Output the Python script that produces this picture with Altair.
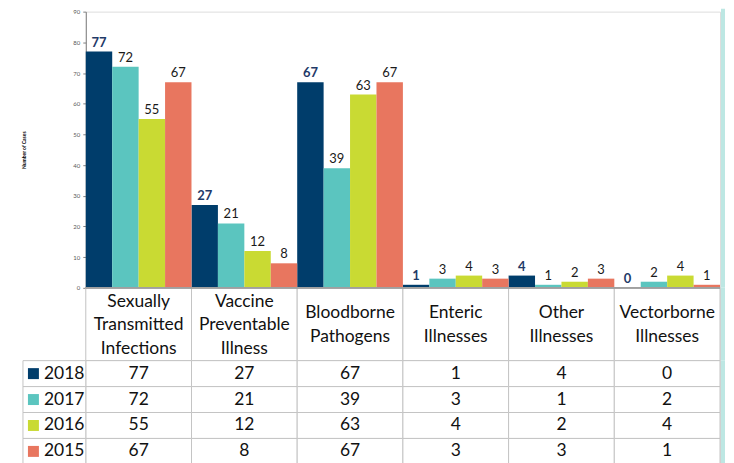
import altair as alt
import pandas as pd

categories = ["Sexually Transmitted Infections", "Vaccine Preventable Illness",
              "Bloodborne Pathogens", "Enteric Illnesses", "Other Illnesses",
              "Vectorborne Illnesses"]
header_labels = ["Sexually\nTransmitted\nInfections", "Vaccine\nPreventable\nIllness",
                 "Bloodborne\nPathogens", "Enteric\nIllnesses", "Other\nIllnesses",
                 "Vectorborne\nIllnesses"]
header_nlines = [3, 3, 2, 2, 2, 2]
years = ["2018", "2017", "2016", "2015"]
colors = ["#003d6b", "#5bc5bf", "#c9da33", "#e8765f"]
cases_2018 = [77, 27, 67, 1, 4, 0]
cases_2017 = [72, 21, 39, 3, 1, 2]
cases_2016 = [55, 12, 63, 4, 2, 4]
cases_2015 = [67, 8, 67, 3, 3, 1]
y_ticks = [0, 10, 20, 30, 40, 50, 60, 70, 80, 90]

series = {"2018": cases_2018, "2017": cases_2017, "2016": cases_2016, "2015": cases_2015}
rows = []
for y in years:
    for c, v in zip(categories, series[y]):
        rows.append({"category": c, "year": y, "cases": v})
df = pd.DataFrame(rows)
hdr = pd.DataFrame({"category": categories, "label": header_labels, "n": header_nlines})
yr = pd.DataFrame({"year": years})

W = 636
H = 277
FONT = "Lato"
GRID = "#c4c4c4"
TEAL = "#bde7e3"
TX1, TX2 = W + 1, W + 5

x_enc = alt.X("category:N", sort=categories,
              scale=alt.Scale(domain=categories, paddingInner=0, paddingOuter=0),
              axis=None)
xoff = alt.XOffset("year:N", sort=years,
                   scale=alt.Scale(domain=years, paddingInner=0, paddingOuter=0))
color = alt.Color("year:N", sort=years, scale=alt.Scale(domain=years, range=colors), legend=None)
yq = alt.Y("cases:Q", scale=alt.Scale(domain=[0, 90]),
           axis=alt.Axis(values=y_ticks, title="Number of Cases", titleFontSize=5,
                         titleFont=FONT, titleFontWeight="bold", titlePadding=46,
                         labelFontSize=6, labelFont=FONT, labelColor="#595959",
                         labelPadding=3, tickSize=3, tickColor="#7f7f7f",
                         labelOverlap=False, domainColor="#7f7f7f", grid=False))

base = alt.Chart(df)
bars = base.mark_bar().encode(x=x_enc, xOffset=xoff, y=yq, color=color)
lab18 = base.transform_filter(alt.datum.year == "2018").mark_text(
    font=FONT, fontSize=13, fontWeight="bold", color="#1f3a68", baseline="alphabetic", dy=-5
).encode(x=x_enc, xOffset=xoff, y=yq, text="cases:Q")
labo = base.transform_filter(alt.datum.year != "2018").mark_text(
    font=FONT, fontSize=13, color="#1a1a1a", baseline="alphabetic", dy=-5
).encode(x=x_enc, xOffset=xoff, y=yq, text="cases:Q")
teal1 = alt.Chart(yr.head(1)).mark_rect(color=TEAL).encode(
    x=alt.value(TX1), x2=alt.value(TX2), y=alt.value(-3), y2=alt.value(H))
top = alt.layer(bars, lab18, labo, teal1).properties(width=W, height=H)

hcell = alt.Chart(hdr).mark_rect(fill="white", stroke=GRID, strokeWidth=1).encode(
    x=x_enc, y=alt.value(0), y2=alt.value(73))
hbase = alt.Chart(hdr).mark_rule(color="#a0a0a0", strokeWidth=1).encode(
    x=alt.value(0), x2=alt.value(W), y=alt.value(0))
htext3 = alt.Chart(hdr).transform_filter(alt.datum.n == 3).mark_text(
    font=FONT, fontSize=17.5, lineBreak="\n", lineHeight=23.5,
    baseline="middle", color="#111111").encode(x=x_enc, y=alt.value(14), text="label:N")
htext2 = alt.Chart(hdr).transform_filter(alt.datum.n == 2).mark_text(
    font=FONT, fontSize=17.5, lineBreak="\n", lineHeight=23.5,
    baseline="middle", color="#111111").encode(x=x_enc, y=alt.value(25.5), text="label:N")
teal2 = alt.Chart(yr.head(1)).mark_rect(color=TEAL).encode(
    x=alt.value(TX1), x2=alt.value(TX2), y=alt.value(0), y2=alt.value(73))
header = alt.layer(hcell, hbase, htext3, htext2, teal2).properties(width=W, height=73)

y_row = alt.Y("year:N", sort=years,
              scale=alt.Scale(domain=years, paddingInner=0, paddingOuter=0), axis=None)
cells = base.mark_rect(fill="white", stroke=GRID, strokeWidth=1).encode(x=x_enc, y=y_row)
ctext = base.mark_text(font=FONT, fontSize=17.5, color="#111111", baseline="middle").encode(
    x=x_enc, y=y_row, text="cases:Q")
lcell = alt.Chart(yr).mark_rect(fill="white", stroke=GRID, strokeWidth=1).encode(
    x=alt.value(-63), x2=alt.value(0), y=y_row)
lsq = alt.Chart(yr).mark_square(size=121, opacity=1).encode(
    x=alt.value(-52.5), y=y_row, color=color)
ltext = alt.Chart(yr).mark_text(font=FONT, fontSize=17.5, align="left", baseline="middle",
                                color="#111111").encode(
    x=alt.value(-42), y=y_row, text="year:N")
teal3 = alt.Chart(yr.head(1)).mark_rect(color=TEAL).encode(
    x=alt.value(TX1), x2=alt.value(TX2), y=alt.value(0), y2=alt.value(104))
table = alt.layer(cells, ctext, lcell, lsq, ltext, teal3).properties(width=W, height=104)

chart = alt.vconcat(top, header, table, spacing=0, bounds="flush").properties(
    padding={"left": 13, "top": -1, "right": 0, "bottom": 0}
).configure_view(stroke=None).configure(background="white")

chart.save("out.html", embed_options={"renderer": "svg", "actions": False})
